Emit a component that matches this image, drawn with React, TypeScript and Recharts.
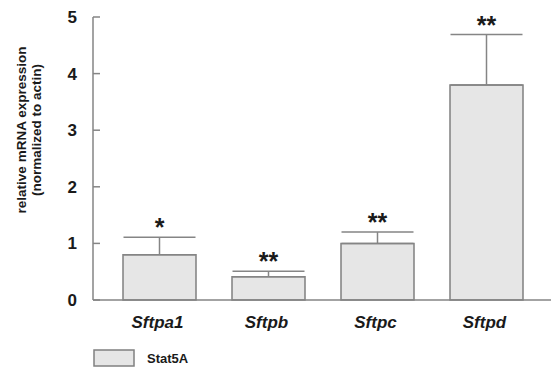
import React from 'react';
import { BarChart, Bar, XAxis, YAxis, ErrorBar, LabelList } from 'recharts';

const categories = ['Sftpa1', 'Sftpb', 'Sftpc', 'Sftpd'];
const stat5aValues = [0.8, 0.41, 1.0, 3.8];
const stat5aErrors = [0.31, 0.1, 0.2, 0.89];
const significance = ['*', '**', '**', '**'];
const yTicks = [0, 1, 2, 3, 4, 5];

const data = categories.map((c, i) => ({
  name: c,
  value: stat5aValues[i],
  err: [0, stat5aErrors[i]],
  errUp: stat5aErrors[i],
  sig: significance[i],
}));

const AXIS = '#858585';
const FONT = '"Liberation Sans", Arial, sans-serif';

const YTick = (props: any) => {
  const { x, y, payload } = props;
  return (
    <g>
      <line x1={x} x2={x + 7} y1={y} y2={y} stroke={AXIS} strokeWidth={1.5} />
      <text x={x - 16} y={y} dy={6} textAnchor="end" fontFamily={FONT} fontWeight="bold" fontSize={17} fill="#1a1a1a">
        {payload.value}
      </text>
    </g>
  );
};

const XTick = (props: any) => {
  const { x, y, payload } = props;
  return (
    <text x={x - 2} y={y} dy={26} textAnchor="middle" fontFamily={FONT} fontWeight="bold" fontStyle="italic" fontSize={17} fill="#1a1a1a">
      {payload.value}
    </text>
  );
};

const StarLabel = (props: any) => {
  const { x, y, width, height, index } = props;
  const d = data[index];
  const errTop = y - (height / d.value) * d.errUp;
  return (
    <text x={x + width / 2} y={errTop - 1} textAnchor="middle" fontFamily={FONT} fontWeight="bold" fontSize={25} fill="#1a1a1a">
      {d.sig}
    </text>
  );
};

export default function App() {
  return (
    <div style={{ position: 'fixed', left: 0, top: 0, width: 551, height: 367, background: '#fff' }}>
      <BarChart width={551} height={367} data={data} margin={{ top: 17, right: 0, left: 0, bottom: 0 }} barSize={73}>
        <XAxis
          dataKey="name"
          height={67}
          padding={{ left: 12, right: 10 }}
          axisLine={{ stroke: AXIS, strokeWidth: 1.5 }}
          tickLine={false}
          tickSize={0}
          tick={<XTick />}
          interval={0}
        />
        <YAxis
          width={93}
          domain={[0, 5]}
          ticks={yTicks}
          axisLine={{ stroke: AXIS, strokeWidth: 1.5 }}
          tickLine={false}
          tickSize={0}
          tickMargin={0}
          tick={<YTick />}
          interval={0}
        />
        <Bar dataKey="value" fill="#e6e6e6" stroke="#808080" strokeWidth={1.5} isAnimationActive={false}>
          <ErrorBar dataKey="err" width={36} stroke={AXIS} strokeWidth={1.5} direction="y" />
          <LabelList dataKey="value" content={<StarLabel />} />
        </Bar>
        <text transform="translate(22,130) rotate(-90)" textAnchor="middle" fontFamily={FONT} fontWeight="bold" fontSize={13.5} fill="#1a1a1a" dy={4}>
          relative mRNA expression
        </text>
        <text transform="translate(37,130) rotate(-90)" textAnchor="middle" fontFamily={FONT} fontWeight="bold" fontSize={13.5} fill="#1a1a1a" dy={4}>
          (normalized to actin)
        </text>
        <rect x={94} y={350} width={40} height={16} fill="#e6e6e6" stroke="#808080" strokeWidth={1.5} />
        <text x={147} y={363} fontFamily={FONT} fontWeight="bold" fontSize={13} fill="#1a1a1a">
          Stat5A
        </text>
      </BarChart>
    </div>
  );
}
